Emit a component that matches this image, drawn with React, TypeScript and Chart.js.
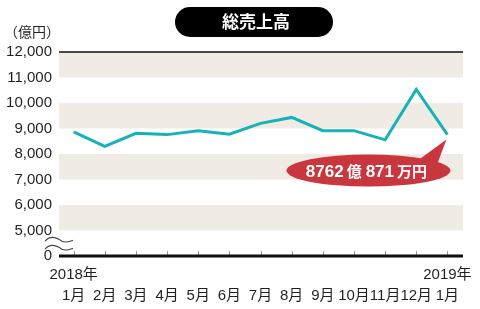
import React, { useEffect, useRef } from "react";
import { Chart, registerables } from "chart.js";

Chart.register(...registerables);

const monthLabels = ["1月", "2月", "3月", "4月", "5月", "6月", "7月", "8月", "9月", "10月", "11月", "12月", "1月"];
const yearLabels = ["2018年", "", "", "", "", "", "", "", "", "", "", "", "2019年"];
const sales = [8865, 8295, 8810, 8760, 8915, 8775, 9200, 9435, 8915, 8915, 8555, 10530, 8762.0871];
const bandRanges = [[11000, 12000], [9000, 10000], [7000, 8000], [5000, 6000]];
const axisBreakValue = 4000;
const yMax = 12000;
const titleText = "総売上高";
const unitText = "（億円）";
const calloutParts = ["8762", "億", "871", "万円"];

const NUM_FONT = '"Liberation Sans", Arial, sans-serif';
const CJK_FONT = '"Noto Sans CJK JP", "Liberation Sans", sans-serif';

const decorPlugin = {
  id: "decor",
  beforeDatasetsDraw(chart: any) {
    const { ctx, chartArea, scales } = chart;
    const y = scales.y;
    const x = scales.x;
    ctx.save();
    // bands
    ctx.fillStyle = "#f0ebe5";
    bandRanges.forEach(([a, b]) => {
      const y1 = y.getPixelForValue(b);
      const y2 = y.getPixelForValue(a);
      ctx.fillRect(chartArea.left, y1, chartArea.right - chartArea.left, y2 - y1);
    });
    // top line
    ctx.strokeStyle = "#111";
    ctx.lineWidth = 1.5;
    const yt = y.getPixelForValue(yMax);
    ctx.beginPath();
    ctx.moveTo(chartArea.left, yt);
    ctx.lineTo(chartArea.right, yt);
    ctx.stroke();
    // x ticks
    const yb = y.getPixelForValue(axisBreakValue);
    ctx.strokeStyle = "#999";
    ctx.lineWidth = 1;
    for (let i = 0; i < sales.length; i++) {
      const px = Math.round(x.getPixelForValue(i)) + 0.5;
      ctx.beginPath();
      ctx.moveTo(px, yb);
      ctx.lineTo(px, yb - 5);
      ctx.stroke();
    }
    // baseline
    ctx.strokeStyle = "#111";
    ctx.lineWidth = 3;
    ctx.beginPath();
    ctx.moveTo(chartArea.left, yb);
    ctx.lineTo(chartArea.right, yb);
    ctx.stroke();
    // axis break waves
    const yMid = y.getPixelForValue(4500);
    ctx.strokeStyle = "#444";
    ctx.lineWidth = 1.1;
    [-3, 5].forEach((off) => {
      const base = yMid + off;
      ctx.beginPath();
      ctx.moveTo(45, base + 1);
      ctx.bezierCurveTo(49, base - 4, 55, base - 4, 62, base + 1);
      ctx.bezierCurveTo(66, base + 3, 70, base + 1, 73, base);
      ctx.stroke();
    });
    ctx.restore();
  },
  afterDraw(chart: any) {
    const { ctx, scales } = chart;
    const x = scales.x;
    const y = scales.y;
    ctx.save();
    // unit label
    ctx.fillStyle = "#231f20";
    ctx.font = `14px ${CJK_FONT}`;
    ctx.textBaseline = "middle";
    ctx.textAlign = "left";
    ctx.fillText(unitText, 4, 32);
    // title pill
    const px1 = 175, px2 = 333, py1 = 7, py2 = 37, r = 15;
    ctx.fillStyle = "#000";
    ctx.beginPath();
    ctx.moveTo(px1 + r, py1);
    ctx.lineTo(px2 - r, py1);
    ctx.arc(px2 - r, py1 + r, r, -Math.PI / 2, Math.PI / 2);
    ctx.lineTo(px1 + r, py2);
    ctx.arc(px1 + r, py1 + r, r, Math.PI / 2, Math.PI * 1.5);
    ctx.closePath();
    ctx.fill();
    ctx.fillStyle = "#fff";
    ctx.font = `bold 17px ${CJK_FONT}`;
    ctx.textAlign = "center";
    ctx.fillText(titleText, 256, 22);
    // callout
    const last = sales.length - 1;
    const lx = x.getPixelForValue(last);
    const ly = y.getPixelForValue(sales[last]);
    const cx = lx - 79;
    const cy = ly + 36;
    ctx.fillStyle = "#c9363e";
    ctx.beginPath();
    ctx.ellipse(cx, cy, 82, 16, 0, 0, Math.PI * 2);
    ctx.fill();
    ctx.beginPath();
    ctx.moveTo(lx - 27, cy - 12);
    ctx.lineTo(lx - 1, ly + 5);
    ctx.lineTo(lx - 10, cy - 7);
    ctx.closePath();
    ctx.fill();
    const fonts = [`bold 17px ${NUM_FONT}`, `bold 15px ${CJK_FONT}`, `bold 17px ${NUM_FONT}`, `bold 15px ${CJK_FONT}`];
    const gaps = [3, 4, 3, 0];
    let total = 0;
    const widths = calloutParts.map((t, i) => {
      ctx.font = fonts[i];
      const w = ctx.measureText(t).width;
      total += w + gaps[i];
      return w;
    });
    let tx = cx - 2 - total / 2;
    ctx.fillStyle = "#fff";
    ctx.textAlign = "left";
    ctx.textBaseline = "alphabetic";
    calloutParts.forEach((t, i) => {
      ctx.font = fonts[i];
      ctx.fillText(t, tx, cy + 6);
      tx += widths[i] + gaps[i];
    });
    ctx.restore();
  },
};

export default function App() {
  const ref = useRef<HTMLCanvasElement>(null);
  useEffect(() => {
    if (!ref.current) return;
    const chart = new Chart(ref.current, {
      type: "line",
      data: {
        datasets: [
          {
            data: sales.map((v, i) => ({ x: i, y: v })),
            borderColor: "#17b2b8",
            borderWidth: 3,
            pointRadius: 0,
            tension: 0,
            fill: false,
          },
        ],
      },
      options: {
        animation: false,
        responsive: false,
        layout: { padding: { left: 0, right: 10, top: 52, bottom: 0 } },
        plugins: { legend: { display: false }, tooltip: { enabled: false } },
        scales: {
          x: {
            type: "linear",
            min: -0.47,
            max: 12.5,
            grid: { display: false, drawTicks: false },
            border: { display: false },
            afterFit: (s: any) => {
              s.height = 53;
            },
            afterBuildTicks: (s: any) => {
              s.ticks = monthLabels.map((_, i) => ({ value: i }));
            },
            ticks: {
              autoSkip: false,
              maxRotation: 0,
              padding: 8,
              color: "#231f20",
              font: { size: 15, family: '"Liberation Sans", "Noto Sans CJK JP", sans-serif', lineHeight: "21px" } as any,
              callback: (v: any) => {
                const i = Math.round(Number(v));
                return [yearLabels[i], monthLabels[i]];
              },
            },
          },
          y: {
            min: axisBreakValue,
            max: yMax,
            grid: { display: false, drawTicks: false },
            border: { display: false },
            afterFit: (s: any) => {
              s.width = 59;
            },
            ticks: {
              stepSize: 1000,
              padding: 7,
              color: "#231f20",
              font: { size: 15, family: NUM_FONT },
              callback: (v: any) => (Number(v) === axisBreakValue ? "0" : Number(v).toLocaleString("en-US")),
            },
          },
        },
      },
      plugins: [decorPlugin],
    });
    return () => chart.destroy();
  }, []);
  return (
    <div style={{ position: "absolute", left: 0, top: 0, width: 480, height: 309, background: "#fff" }}>
      <canvas ref={ref} width={480} height={309} style={{ width: 480, height: 309, display: "block" }} />
    </div>
  );
}
